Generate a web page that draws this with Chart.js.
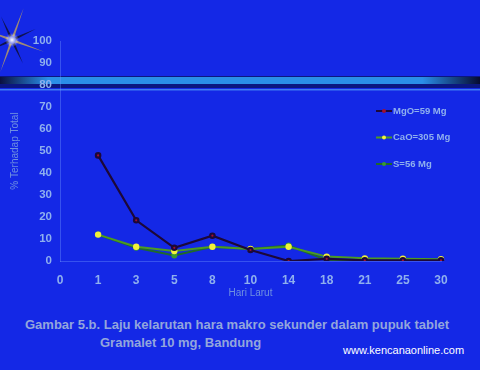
<!DOCTYPE html>
<html>
<head>
<meta charset="utf-8">
<script src="https://cdn.jsdelivr.net/npm/chart.js@4/dist/chart.umd.min.js"></script>
<style>
  html, body { margin: 0; padding: 0; }
  body { width: 480px; height: 370px; background: #1428e6; position: relative; overflow: hidden;
         font-family: "Liberation Sans", Arial, sans-serif; }
  #chart { position: absolute; left: 0; top: 0; }
  .cap { position: absolute; color: #93a6dc; font-size: 13px; font-weight: bold; white-space: nowrap; }
  #site { position: absolute; left: 343px; top: 344px; color: #ffffff; font-size: 11px; }
</style>
</head>
<body>
<canvas id="chart" width="480" height="310"></canvas>
<div class="cap" style="left:25px; top:317px;">Gambar 5.b. Laju kelarutan hara makro sekunder dalam pupuk tablet</div>
<div class="cap" style="left:100px; top:335px;">Gramalet 10 mg, Bandung</div>
<div id="site">www.kencanaonline.com</div>
<script>
const days = ["0", "1", "3", "5", "8", "10", "14", "18", "21", "25", "30"];
const mgo = [null, 48, 18.5, 6, 11.5, 5, 0, 1, 0.3, 0.3, 0.3];
const cao = [null, 12, 6.5, 4.5, 6.5, 5.5, 6.5, 2, 1.2, 1, 0.8];
const sulf = [null, 12, 6, 2.5, 6.5, 5.5, 7, 0.5, 0, 0, 0.5];
const seriesNames = ["MgO=59 Mg", "CaO=305 Mg", "S=56 Mg"];

const textBlue = "#8fb0ee";

// background band + star flare
const decor = {
  id: "decor",
  beforeDraw(chart) {
    const ctx = chart.ctx, w = chart.width;
    ctx.save();
    let g = ctx.createLinearGradient(0, 0, w, 0);
    g.addColorStop(0, "#0a1040");
    g.addColorStop(0.1, "#2a8ee8");
    g.addColorStop(0.88, "#2a8ee8");
    g.addColorStop(1, "#060a30");
    ctx.fillStyle = "#0b1680";
    ctx.fillRect(0, 76, w, 12);
    ctx.fillStyle = g;
    ctx.fillRect(0, 77, w, 7);
    ctx.fillStyle = "#3f7af0";
    ctx.fillRect(0, 89, w, 1.5);
    // flare
    const cx = 12, cy = 40;
    for (let i = 0; i < 8; i++) {
      const a = i * Math.PI / 4 + 0.35;
      const len = i % 2 ? 26 : 34;
      ctx.beginPath();
      ctx.moveTo(cx + Math.cos(a + 0.3) * 4, cy + Math.sin(a + 0.3) * 4);
      ctx.lineTo(cx + Math.cos(a) * len, cy + Math.sin(a) * len);
      ctx.lineTo(cx + Math.cos(a - 0.3) * 4, cy + Math.sin(a - 0.3) * 4);
      ctx.closePath();
      ctx.fillStyle = i % 2 ? "rgba(15,15,50,0.85)" : "rgba(175,150,105,0.9)";
      ctx.fill();
    }
    const rg = ctx.createRadialGradient(cx, cy, 0, cx, cy, 7);
    rg.addColorStop(0, "rgba(255,255,255,1)");
    rg.addColorStop(1, "rgba(255,255,255,0)");
    ctx.fillStyle = rg;
    ctx.fillRect(cx - 7, cy - 7, 14, 14);
    ctx.restore();
  }
};

// legend drawn at the right side of the plot
const sideLegend = {
  id: "sideLegend",
  afterDraw(chart) {
    const ctx = chart.ctx;
    ctx.save();
    chart.data.datasets.forEach((ds, i) => {
      const y = 111 + i * 26.5;
      ctx.strokeStyle = ds.borderColor;
      ctx.lineWidth = 2;
      ctx.beginPath();
      ctx.moveTo(376, y);
      ctx.lineTo(392, y);
      ctx.stroke();
      ctx.fillStyle = ds.pointBackgroundColor;
      ctx.beginPath();
      ctx.arc(384, y, 2, 0, Math.PI * 2);
      ctx.fill();
      ctx.fillStyle = textBlue;
      ctx.font = "bold 9.5px 'Liberation Sans', Arial, sans-serif";
      ctx.textBaseline = "middle";
      ctx.fillText(ds.label, 393, y);
    });
    ctx.restore();
  }
};

new Chart(document.getElementById("chart"), {
  type: "line",
  data: {
    labels: days,
    datasets: [
      { label: seriesNames[0], data: mgo, borderColor: "#1c0838", pointBackgroundColor: "#a01030",
        pointBorderColor: "#1c0838", borderWidth: 2.2, pointRadius: 2.2, tension: 0 },
      { label: seriesNames[1], data: cao, borderColor: "#4c9a22", pointBackgroundColor: "#f2f23a",
        pointBorderColor: "#f2f23a", borderWidth: 2, pointRadius: 2.2, tension: 0 },
      { label: seriesNames[2], data: sulf, borderColor: "#1f6a2c", pointBackgroundColor: "#3a9a30",
        pointBorderColor: "#3a9a30", borderWidth: 2, pointRadius: 2, tension: 0 }
    ]
  },
  options: {
    responsive: false,
    animation: false,
    layout: { padding: { top: 41, right: 39, bottom: 11, left: 0 } },
    plugins: { legend: { display: false }, tooltip: { enabled: false } },
    scales: {
      x: {
        offset: false,
        afterFit(s) { s.height = 38; },
        grid: { display: false, drawTicks: false },
        border: { color: "rgba(120,160,255,0.35)", width: 1 },
        ticks: { color: textBlue, font: { size: 12, weight: "bold", family: "'Liberation Sans', Arial" },
                 padding: 12, maxRotation: 0, autoSkip: false },
        title: { display: true, text: "Hari Larut", color: "#6f90e0",
                 font: { size: 10, family: "'Liberation Sans', Arial" }, padding: { top: 0, bottom: 0 } }
      },
      y: {
        min: 0, max: 100,
        afterFit(s) { s.width = 60; },
        grid: { display: false, drawTicks: false },
        border: { color: "rgba(120,160,255,0.35)", width: 1 },
        ticks: { stepSize: 10, color: textBlue, padding: 8,
                 font: { size: 11.5, weight: "bold", family: "'Liberation Sans', Arial" } },
        title: { display: true, text: "% Terhadap Total", color: "#6f90e0",
                 font: { size: 10, family: "'Liberation Sans', Arial" }, padding: { top: 9, bottom: 0 } }
      }
    }
  },
  plugins: [decor, sideLegend]
});
</script>
</body>
</html>
